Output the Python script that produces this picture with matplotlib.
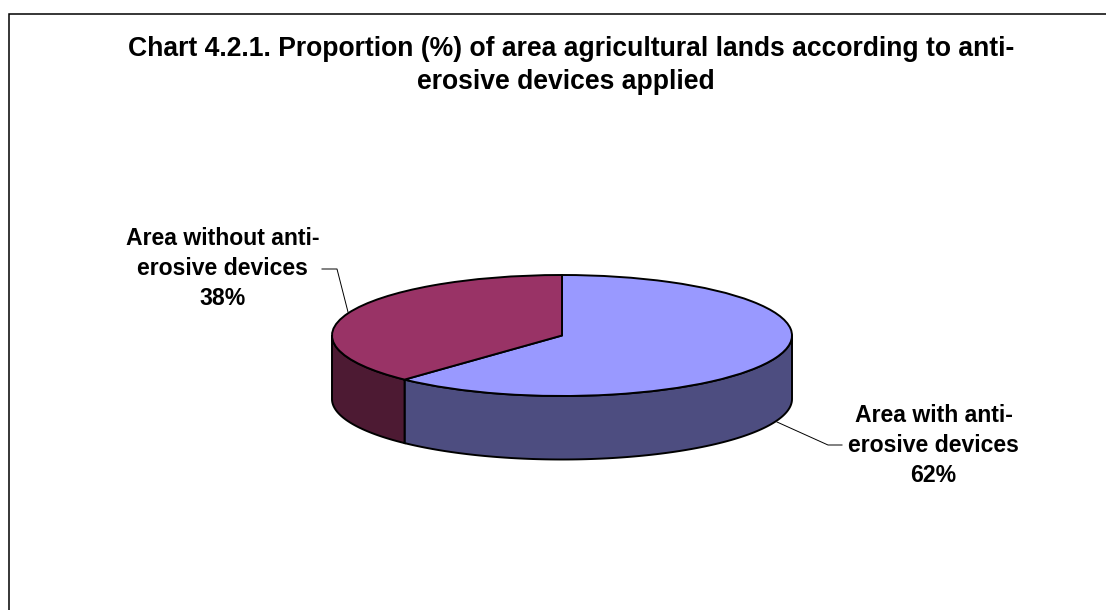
import numpy as np
import matplotlib
matplotlib.use("Agg")
import matplotlib.pyplot as plt

categories = ["Area with anti-\nerosive devices", "Area without anti-\nerosive devices"]
shares = [62, 38]
top_colors = ["#9999FF", "#993366"]
wall_colors = ["#4D4D80", "#4D1A33"]
title_lines = ["Chart 4.2.1. Proportion (%) of area agricultural lands according to anti-",
               "erosive devices applied"]

W, H = 1106, 610
plt.rcParams["font.family"] = ["Liberation Sans", "DejaVu Sans"]
fig = plt.figure(figsize=(W / 100, H / 100), dpi=100, facecolor="white")

# overlay in pixel coordinates: frame, title, labels, leaders
ov = fig.add_axes([0, 0, 1, 1], zorder=2)
ov.set_xlim(0, W)
ov.set_ylim(H, 0)
ov.axis("off")
ov.patch.set_alpha(0)
ov.plot([8.5, 8.5, W], [H, 13.5, 13.5], color="black", lw=1.1, solid_joinstyle="miter")

ov.text(571, 56, title_lines[0], ha="center", va="baseline", fontsize=19.1, fontweight="bold")
ov.text(566, 89, title_lines[1], ha="center", va="baseline", fontsize=19.1, fontweight="bold")

label_pos = [(933.5, 451.5), (222.5, 275)]
for cat, share, (lx, ly) in zip(categories, shares, label_pos):
    lines = cat.split("\n") + [f"{share}%"]
    for i, line in enumerate(lines):
        ov.text(lx, ly + (i - 1) * 30, line, ha="center", va="baseline",
                fontsize=16.6, fontweight="bold")

ov.plot([842, 828, 777], [445, 445, 422], color="black", lw=0.7)
ov.plot([322, 337, 348], [269, 269, 312], color="black", lw=0.7)

# pie: axes box spans the top ellipse of the disc
cx, cy, rx, ry, depth_px = 562, 335.5, 230, 60.5, 63.5
ax = fig.add_axes([(cx - rx) / W, 1 - (cy + ry) / H, 2 * rx / W, 2 * ry / H], zorder=1)
ax.pie(shares, colors=top_colors, startangle=90, counterclock=False, radius=1,
       wedgeprops=dict(edgecolor="black", linewidth=1.4, joinstyle="round"))
ax.set_aspect("auto")
ax.set_xlim(-1, 1)
ax.set_ylim(-1, 1)
for p in ax.patches:
    p.set_clip_on(False)

# visible side walls, from the same slice angles
depth = depth_px / ry
start = 90.0
for share, wall in zip(shares, wall_colors):
    end = start - share / sum(shares) * 360
    lo, hi = end, start
    # keep only the front half of the disc (180..360 degrees)
    for offset in (0, -360, 360):
        a = max(lo + offset, 180)
        b = min(hi + offset, 360)
        if a < b:
            t = np.radians(np.linspace(a, b, 120))
            xs = np.cos(t)
            ys = np.sin(t)
            ax.fill(np.r_[xs, xs[::-1]], np.r_[ys, ys[::-1] - depth], facecolor=wall,
                    edgecolor="black", linewidth=1.4, zorder=0.5, clip_on=False)
    start = end

fig.savefig("out.png", dpi=100, facecolor="white")
